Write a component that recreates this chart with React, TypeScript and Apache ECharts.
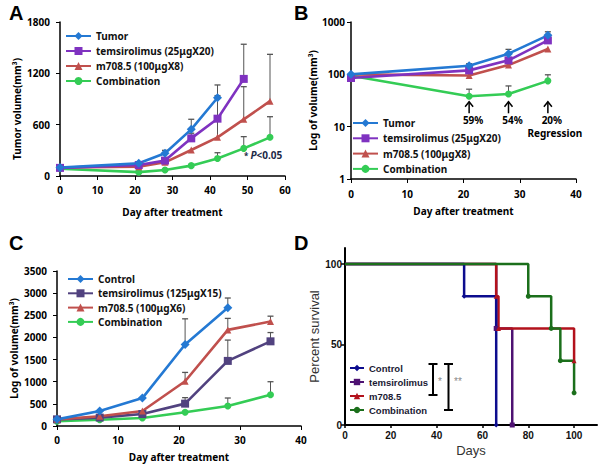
import React, { useEffect, useRef } from 'react';
import * as echarts from 'echarts';

// ---------- Panel A (tumor volume) ----------
const daysA = [0, 21, 28, 35, 42, 49, 56];
const aTumor = [100, 148, 265, 545, 915];
const aTumorErr = [null, 165, 300, 663, 1064];
const aTems = [95, 128, 180, 440, 670, 1135];
const aTemsErr = [null, null, null, 500, 940, 1540];
const aM708 = [100, 109, 160, 304, 452, 662, 875];
const aM708Err = [null, null, null, null, 700, 1044, 1422];
const aComb = [85, 45, 70, 121, 205, 323, 452];
const aCombErr = [null, null, null, 135, 272, 460, 693];

// ---------- Panel B (log volume) ----------
const daysB = [0, 21, 28, 35];
const bTumor = [100, 146, 248, 556];
const bTumorErr = [null, 160, 300, 650];
const bTems = [85, 119, 185, 445];
const bM708 = [100, 95, 150, 304];
const bComb = [94, 38, 42, 75];
const bCombErr = [null, 52, 60, 98];
const arrowDays = [21, 28, 35];
const arrowLabels = ['59%', '54%', '20%'];
const arrowSub = ['', '', 'Regression'];

// ---------- Panel C ----------
const daysC = [0, 7, 14, 21, 28, 35];
const cControl = [150, 340, 630, 1840, 2670];
const cControlErr = [null, null, null, 2420, 2890];
const cTems = [150, 190, 270, 505, 1470, 1912];
const cTemsErr = [null, null, null, 640, 1940, 2110];
const cM708 = [150, 220, 340, 1010, 2170, 2360];
const cM708Err = [null, null, null, 1210, 2430, 2480];
const cComb = [110, 140, 180, 310, 450, 705];
const cCombErr = [null, null, null, null, 632, 1000];

// ---------- Panel D (survival) ----------
const dControl = [[0, 100], [52, 80], [66, 0]];
const dTems = [[0, 100], [66, 60], [73, 0]];
const dM708 = [[0, 100], [66, 80], [67, 60], [100, 40]];
const dComb = [[0, 100], [80, 80], [90, 60], [94, 40], [100, 20]];

const F = "'Noto Sans', sans-serif";
const FD = "'Liberation Sans', Arial, sans-serif";

const BLUE = '#2479d3';
const PURPLE = '#7f32c0';
const RED = '#c0504d';
const GREEN = '#34cc55';
const DPURPLE = '#51427f';

function line(name: string, days: number[], vals: number[], color: string, symbol: string, size: number, idx: number) {
  return {
    type: 'line', name, xAxisIndex: idx, yAxisIndex: idx,
    data: vals.map((v, i) => [days[i], v]),
    symbol, symbolSize: size,
    lineStyle: { color, width: 2.6 },
    itemStyle: { color },
    z: 3,
  };
}

function errs(days: number[], vals: number[], err: (number | null)[], idx: number) {
  const data: number[][] = [];
  vals.forEach((v, i) => { if (err[i] != null) data.push([days[i], v, err[i] as number]); });
  return {
    type: 'custom', xAxisIndex: idx, yAxisIndex: idx, silent: true, z: 2,
    data,
    renderItem: (_p: any, api: any) => {
      const p0 = api.coord([api.value(0), api.value(1)]);
      const p1 = api.coord([api.value(0), api.value(2)]);
      return {
        type: 'group', children: [
          { type: 'line', shape: { x1: p0[0], y1: p0[1], x2: p1[0], y2: p1[1] }, style: { stroke: '#555', lineWidth: 1 } },
          { type: 'line', shape: { x1: p1[0] - 3, y1: p1[1], x2: p1[0] + 3, y2: p1[1] }, style: { stroke: '#555', lineWidth: 1.3 } },
        ],
      };
    },
  };
}

function kmLine(name: string, pts: number[][], color: string, symbol: string, idx: number, width: number) {
  return {
    type: 'line', name, xAxisIndex: idx, yAxisIndex: idx, step: 'end',
    data: pts.map((p, i) => (i === 0 ? { value: p, symbol: 'none' } : { value: p })),
    symbol, symbolSize: 5,
    lineStyle: { color, width },
    itemStyle: { color },
    z: 3,
  };
}

const plain = (v: number) => String(v);
const tickLabel = { color: '#000', fontWeight: 'bold' as const, fontSize: 10, fontFamily: F, formatter: plain };
const nameStyle = { color: '#000', fontWeight: 'bold' as const, fontSize: 10, fontFamily: F };
const axLine = { show: true, lineStyle: { color: '#000', width: 1.5 } };
const axTick = { show: true, length: 4, lineStyle: { color: '#000', width: 1 } };

function valAxis(idx: number, min: number, max: number, interval: number, margin: number, extra: any = {}) {
  return {
    gridIndex: idx, type: 'value', min, max, interval,
    axisLine: axLine, axisTick: axTick, splitLine: { show: false },
    axisLabel: { ...tickLabel, margin },
    nameTextStyle: nameStyle,
    ...extra,
  };
}

const fmt = (n: string) => n.split('|')[0];

export default function App() {
  const ref = useRef<HTMLDivElement>(null);
  useEffect(() => {
    const chart = echarts.init(ref.current!, undefined, { renderer: 'svg' });
    const legendText = { fontFamily: F, fontWeight: 'bold' as const, fontSize: 10, lineHeight: 12, color: '#111' };
    const option: any = {
      animation: false,
      backgroundColor: '#fff',
      grid: [
        { left: 60, top: 22, width: 225, height: 154, outerBoundsMode: 'none' },
        { left: 351, top: 22, width: 225, height: 157, outerBoundsMode: 'none' },
        { left: 57, top: 271, width: 244, height: 155, outerBoundsMode: 'none' },
        { left: 345, top: 248, width: 252, height: 177, outerBoundsMode: 'none' },
      ],
      xAxis: [
        valAxis(0, 0, 60, 10, 9, { name: 'Day after treatment', nameLocation: 'middle', nameGap: 31 }),
        valAxis(1, 0, 40, 10, 10, { name: 'Day after treatment', nameLocation: 'middle', nameGap: 27 }),
        valAxis(2, 0, 40, 10, 9, { name: 'Day after treatment', nameLocation: 'middle', nameGap: 26 }),
        {
          gridIndex: 3, type: 'value', min: 0, max: 110, interval: 20,
          axisLine: { show: true, lineStyle: { color: '#000', width: 2 } },
          axisTick: { show: true, length: 3, lineStyle: { color: '#000', width: 1.5 } },
          splitLine: { show: false },
          axisLabel: { color: '#111', fontWeight: 'bold', fontSize: 10, fontFamily: FD, margin: 5, showMaxLabel: false },
          name: 'Days', nameLocation: 'middle', nameGap: 19,
          nameTextStyle: { color: '#333', fontSize: 13, fontFamily: FD },
        },
      ],
      yAxis: [
        valAxis(0, 0, 1800, 600, 10, { name: 'Tumor volume(mm³)', nameLocation: 'middle', nameGap: 38, nameRotate: 90, nameTextStyle: { ...nameStyle, padding: [0, 20, 0, 0] } }),
        {
          gridIndex: 1, type: 'log', logBase: 10, min: 1, max: 1000,
          axisLine: axLine, axisTick: axTick, splitLine: { show: false }, minorTick: { show: false },
          axisLabel: { ...tickLabel, margin: 6 },
          name: 'Log of volume(mm³)', nameLocation: 'middle', nameGap: 33, nameRotate: 90,
          nameTextStyle: nameStyle,
        },
        valAxis(2, 0, 3500, 500, 10, { name: 'Log of volume(mm³)', nameLocation: 'middle', nameGap: 38, nameRotate: 90 }),
        {
          gridIndex: 3, type: 'value', min: 0, max: 110, interval: 50,
          axisLine: { show: true, lineStyle: { color: '#000', width: 2 } },
          axisTick: { show: true, length: 4, lineStyle: { color: '#000', width: 1.5 } },
          splitLine: { show: false },
          axisLabel: { color: '#111', fontWeight: 'bold', fontSize: 10, fontFamily: FD, margin: 3, showMaxLabel: false },
          name: 'Percent survival', nameLocation: 'middle', nameGap: 23, nameRotate: 90,
          nameTextStyle: { color: '#333', fontSize: 13, fontFamily: FD },
        },
      ],
      legend: [
        {
          orient: 'vertical', left: 65, top: 30, padding: 0, itemWidth: 25, itemHeight: 10, itemGap: 3,
          data: ['Tumor|A', 'temsirolimus (25μgX20)|A', 'm708.5 (100μgX8)|A', 'Combination|A'],
          formatter: fmt, textStyle: legendText,
        },
        {
          orient: 'vertical', left: 352, top: 117, padding: 0, itemWidth: 25, itemHeight: 10, itemGap: 3.3,
          data: ['Tumor|B', 'temsirolimus (25μgX20)|B', 'm708.5 (100μgX8)|B', 'Combination|B'],
          formatter: fmt, textStyle: legendText,
        },
        {
          orient: 'vertical', left: 67, top: 273, padding: 0, itemWidth: 25, itemHeight: 10, itemGap: 2.3,
          data: ['Control|C', 'temsirolimus (125μgX15)|C', 'm708.5 (100μgX6)|C', 'Combination|C'],
          formatter: fmt, textStyle: legendText,
        },
        {
          orient: 'vertical', left: 349, top: 362, padding: 0, itemWidth: 14, itemHeight: 8, itemGap: 2,
          data: ['Control|D', 'temsirolimus|D', 'm708.5|D', 'Combination|D'],
          formatter: fmt, textStyle: { fontFamily: FD, fontWeight: 'bold', fontSize: 9.5, lineHeight: 12, color: '#1a1a33' },
        },
      ],
      series: [
        // A
        errs(daysA, aComb, aCombErr, 0), errs(daysA, aM708, aM708Err, 0), errs(daysA, aTems, aTemsErr, 0), errs(daysA, aTumor, aTumorErr, 0),
        line('Combination|A', daysA, aComb, GREEN, 'circle', 7, 0),
        line('m708.5 (100μgX8)|A', daysA, aM708, RED, 'triangle', 7, 0),
        line('temsirolimus (25μgX20)|A', daysA, aTems, PURPLE, 'rect', 8, 0),
        line('Tumor|A', daysA, aTumor, BLUE, 'diamond', 9, 0),
        // B
        errs(daysB, bComb, bCombErr, 1), errs(daysB, bTumor, bTumorErr, 1),
        line('Combination|B', daysB, bComb, GREEN, 'circle', 7, 1),
        line('m708.5 (100μgX8)|B', daysB, bM708, RED, 'triangle', 7, 1),
        line('temsirolimus (25μgX20)|B', daysB, bTems, PURPLE, 'rect', 8, 1),
        line('Tumor|B', daysB, bTumor, BLUE, 'diamond', 9, 1),
        {
          type: 'custom', xAxisIndex: 1, yAxisIndex: 1, silent: true, z: 4,
          data: arrowDays.map((d) => [d, 30]),
          renderItem: (p: any, api: any) => {
            const top = api.coord([api.value(0), 30]);
            const bot = api.coord([api.value(0), 18]);
            const x = top[0];
            const i = p.dataIndex;
            const ch: any[] = [
              { type: 'line', shape: { x1: x, y1: top[1], x2: x, y2: bot[1] }, style: { stroke: '#000', lineWidth: 1.5 } },
              { type: 'polyline', shape: { points: [[x - 4, top[1] + 5], [x, top[1]], [x + 4, top[1] + 5]] }, style: { stroke: '#000', lineWidth: 1.5, fill: 'none' } },
              { type: 'text', x: x + 4, y: bot[1] + 7, style: { text: arrowLabels[i], align: 'center', verticalAlign: 'middle', font: `bold 10px ${F}`, fill: '#000' } },
            ];
            if (arrowSub[i]) ch.push({ type: 'text', x: x + 7, y: bot[1] + 20, style: { text: arrowSub[i], align: 'center', verticalAlign: 'middle', font: `bold 10px ${F}`, fill: '#000' } });
            return { type: 'group', children: ch };
          },
        },
        // C
        errs(daysC, cComb, cCombErr, 2), errs(daysC, cM708, cM708Err, 2), errs(daysC, cTems, cTemsErr, 2), errs(daysC, cControl, cControlErr, 2),
        line('Combination|C', daysC, cComb, GREEN, 'circle', 7, 2),
        line('temsirolimus (125μgX15)|C', daysC, cTems, DPURPLE, 'rect', 8, 2),
        line('m708.5 (100μgX6)|C', daysC, cM708, RED, 'triangle', 7, 2),
        line('Control|C', daysC, cControl, BLUE, 'diamond', 9, 2),
        // D
        kmLine('temsirolimus|D', dTems, '#4e1272', 'rect', 3, 2.5),
        kmLine('m708.5|D', dM708, '#b3121c', 'triangle', 3, 2.5),
        kmLine('Control|D', dControl, '#0c0c8e', 'diamond', 3, 2.5),
        kmLine('Combination|D', dComb, '#1b6f1b', 'circle', 3, 2.5),
      ],
      graphic: [
        { type: 'text', left: 9, top: 3, style: { text: 'A', font: `bold 20px ${FD}`, fill: '#000' } },
        { type: 'text', left: 294, top: 3, style: { text: 'B', font: `bold 20px ${FD}`, fill: '#000' } },
        { type: 'text', left: 9, top: 233, style: { text: 'C', font: `bold 20px ${FD}`, fill: '#000' } },
        { type: 'text', left: 294, top: 233, style: { text: 'D', font: `bold 20px ${FD}`, fill: '#000' } },
        {
          type: 'text', left: 244, top: 150,
          style: {
            text: '{s|* }{i|P}{n|<0.05}',
            rich: {
              s: { font: `bold 8px ${F}`, fill: '#1c2a48' },
              i: { font: `italic bold 10px ${F}`, fill: '#1c2a48' },
              n: { font: `bold 10px ${F}`, fill: '#1c2a48' },
            },
          },
        },
        // significance brackets in D
        { type: 'line', shape: { x1: 433, y1: 364, x2: 433, y2: 395 }, style: { stroke: '#000', lineWidth: 2 } },
        { type: 'line', shape: { x1: 428.5, y1: 364, x2: 437.5, y2: 364 }, style: { stroke: '#000', lineWidth: 2 } },
        { type: 'line', shape: { x1: 428.5, y1: 395, x2: 437.5, y2: 395 }, style: { stroke: '#000', lineWidth: 2 } },
        { type: 'line', shape: { x1: 448.5, y1: 364, x2: 448.5, y2: 410 }, style: { stroke: '#000', lineWidth: 2 } },
        { type: 'line', shape: { x1: 444, y1: 364, x2: 453, y2: 364 }, style: { stroke: '#000', lineWidth: 2 } },
        { type: 'line', shape: { x1: 444, y1: 410, x2: 453, y2: 410 }, style: { stroke: '#000', lineWidth: 2 } },
        { type: 'text', x: 440, y: 381, style: { text: '*', font: `10px ${FD}`, fill: '#888', align: 'center', verticalAlign: 'middle' } },
        { type: 'text', x: 458, y: 381, style: { text: '**', font: `10px ${FD}`, fill: '#888', align: 'center', verticalAlign: 'middle' } },
      ],
    };
    chart.setOption(option);
    return () => chart.dispose();
  }, []);
  return <div ref={ref} style={{ position: 'fixed', left: 0, top: 0, width: 602, height: 467 }} />;
}
